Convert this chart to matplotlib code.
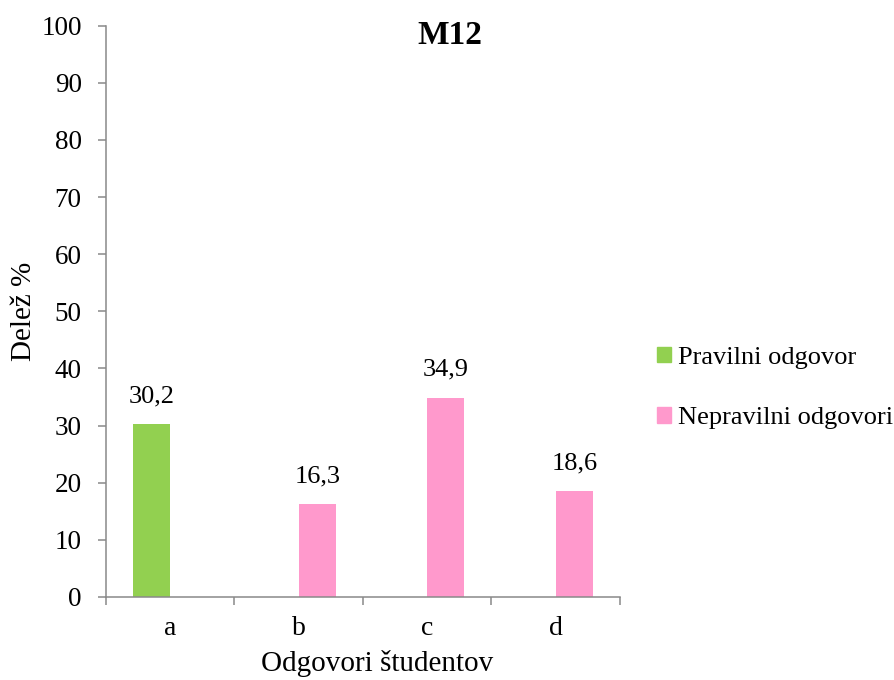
import matplotlib
matplotlib.use("Agg")
import matplotlib.pyplot as plt
from matplotlib.patches import Patch
import numpy as np

categories = ["a", "b", "c", "d"]
series_names = ["Pravilni odgovor", "Nepravilni odgovori"]
correct = [30.2, 0, 0, 0]
incorrect = [0, 16.3, 34.9, 18.6]
colors = ["#92d050", "#ff99cc"]
y_ticks = [0, 10, 20, 30, 40, 50, 60, 70, 80, 90, 100]

plt.rcParams['font.family'] = ['Liberation Serif', 'DejaVu Serif']

W, H = 895, 680
fig = plt.figure(figsize=(W / 100, H / 100), dpi=100)
ax = fig.add_axes([106 / W, 1 - 597 / H, (620 - 106) / W, (597 - 25.7) / H])

x = np.arange(len(categories))
w = 0.287
off = 0.144
axis_col = "#898989"

def fmt(v):
    return f"{v:.1f}".replace(".", ",")

for i, v in enumerate(correct):
    if v > 0:
        ax.bar(x[i] - off, v, w, color=colors[0])
        ax.annotate(fmt(v), (x[i] - off, v), xytext=(0, 20), textcoords="offset points",
                    ha="center", va="center", fontsize=19)
for i, v in enumerate(incorrect):
    if v > 0:
        ax.bar(x[i] + off, v, w, color=colors[1])
        ax.annotate(fmt(v), (x[i] + off, v), xytext=(0, 20), textcoords="offset points",
                    ha="center", va="center", fontsize=19)

ax.set_xlim(-0.5, len(categories) - 0.5)
ax.set_ylim(0, 100)
ax.set_yticks(y_ticks)
ax.set_yticklabels([str(t) for t in y_ticks], fontsize=19.5)
ax.set_xticks(np.arange(-0.5, len(categories), 1.0))
ax.set_xticklabels([])
ax.set_xticks(x, minor=True)
ax.set_xticklabels(categories, minor=True, fontsize=20)
ax.tick_params(axis="x", which="minor", length=0, pad=14)
ax.tick_params(axis="x", which="major", length=5.5, color=axis_col, width=1.1)
ax.tick_params(axis="y", length=5.5, color=axis_col, width=1.1, pad=12)

for s in ["top", "right"]:
    ax.spines[s].set_visible(False)
for s in ["left", "bottom"]:
    ax.spines[s].set_color(axis_col)
    ax.spines[s].set_linewidth(1.1)

ax.set_xlabel("Odgovori študentov", fontsize=21)
ax.xaxis.set_label_coords(0.527, -0.093)
ax.set_ylabel("Delež %", fontsize=21, labelpad=3)
fig.text(450 / W, 1 - 36 / H, "M12", fontsize=24, fontweight="bold", ha="center", va="center")

handles = [Patch(color=colors[0]), Patch(color=colors[1])]
fig.legend(handles, series_names, loc="center left", bbox_to_anchor=(657 / W, 1 - 388 / H),
           frameon=False, fontsize=19, handlelength=0.53, handleheight=0.53,
           handletextpad=0.25, labelspacing=1.45, borderaxespad=0, borderpad=0)

fig.savefig("out.png", dpi=100)
